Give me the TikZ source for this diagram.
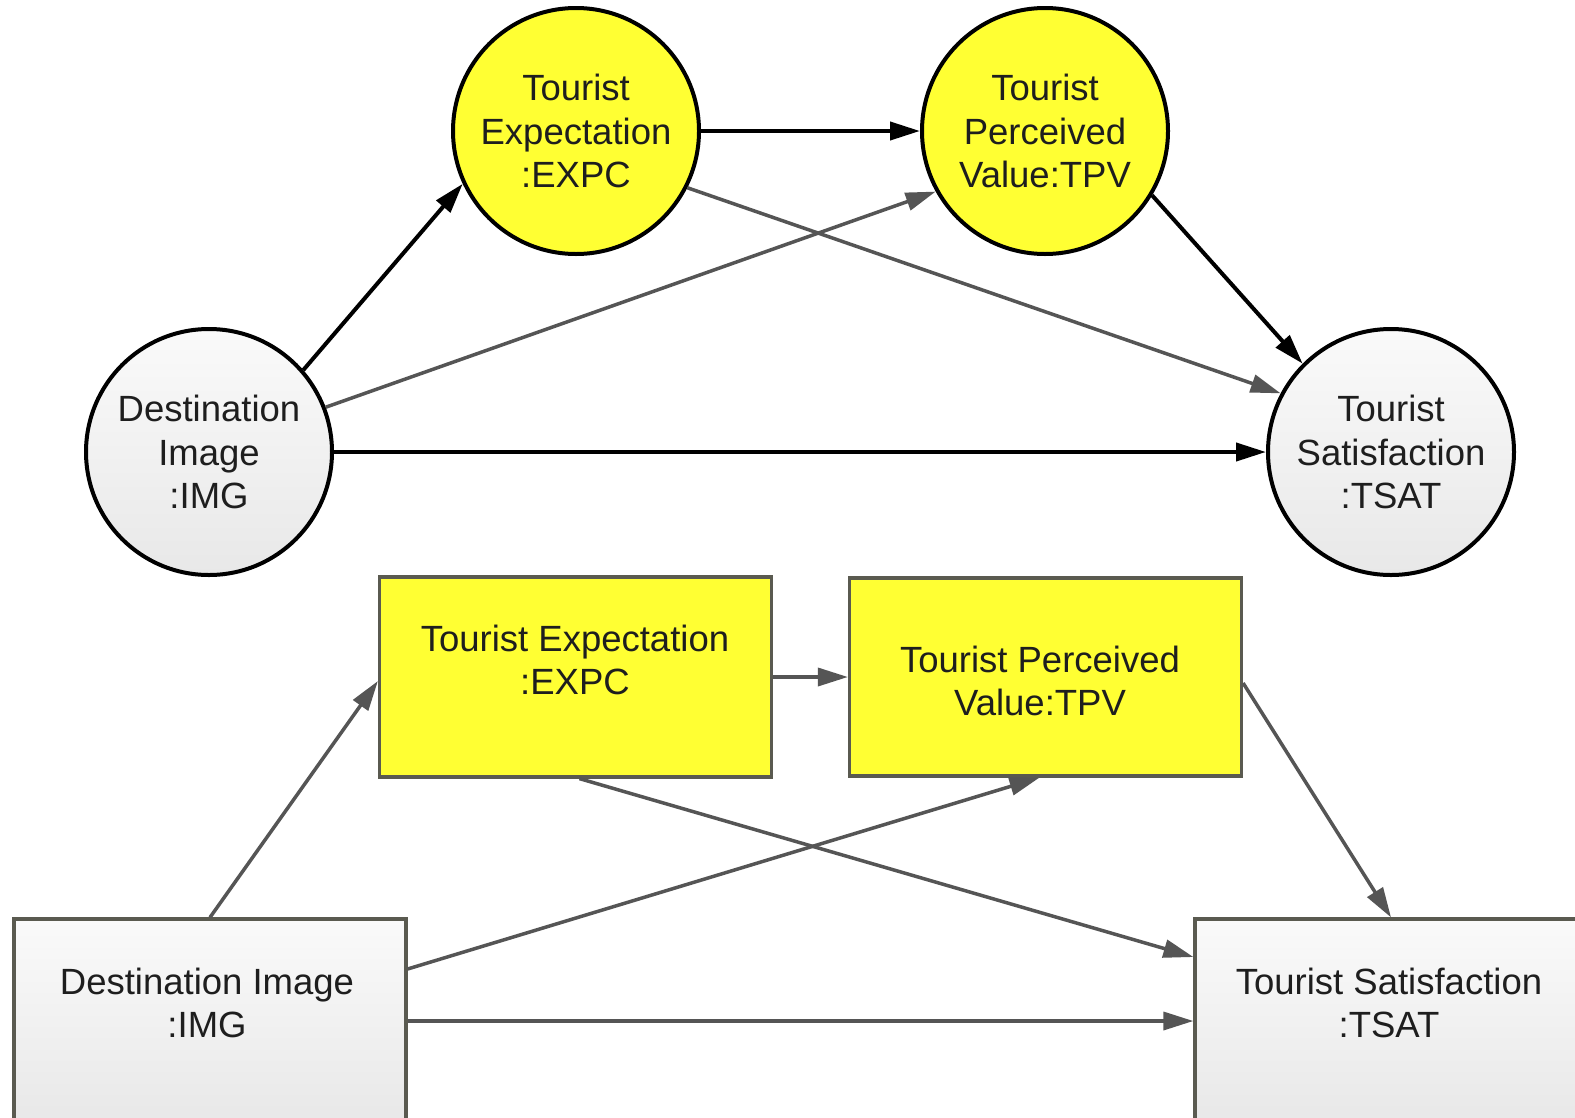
\documentclass[tikz,border=0pt]{standalone}
\usepackage{fontspec}
\setmainfont{Liberation Sans}
\usetikzlibrary{arrows.meta}
\definecolor{cyellow}{RGB}{255,255,51}
\definecolor{edgegray}{RGB}{85,85,85}
\definecolor{boxline}{RGB}{90,90,80}
\definecolor{txt}{RGB}{30,30,30}
\definecolor{lite}{RGB}{250,250,250}
\definecolor{dim}{RGB}{232,232,232}
\tikzset{
  lv/.style={circle, draw=black, line width=4pt, minimum size=246pt, inner sep=0pt,
    align=center, text=txt, font=\fontsize{36.5}{43.5}\selectfont},
  lvyellow/.style={lv, fill=cyellow},
  lvgray/.style={lv, top color=lite, bottom color=dim},
  boxnode/.style={rectangle, draw=boxline, line width=3.2pt, minimum width=392pt, inner sep=0pt},
  boxyellow/.style={boxnode, fill=cyellow},
  boxgray/.style={boxnode, top color=lite, bottom color=dim},
  boxtext/.style={align=center, text=txt, font=\fontsize{36.5}{43.5}\selectfont, inner sep=0pt},
  pathblack/.style={draw=black, line width=4pt, -{Triangle[length=30pt,width=18pt]}},
  pathgray/.style={draw=edgegray, line width=3.5pt, -{Triangle[length=30pt,width=18pt]}},
}
\begin{document}
\begin{tikzpicture}[x=1pt, y=-1pt]
  \fill[white] (0,0) rectangle (1575,1117);
  \useasboundingbox (0,0) rectangle (1575,1117);

  % Structural model drawn with circles
  \node[lvyellow] (expc) at (576,131) {Tourist\\Expectation\\:EXPC};
  \node[lvyellow] (tpv)  at (1045,131) {Tourist\\Perceived\\Value:TPV};
  \node[lvgray]   (img)  at (209,452) {Destination\\Image\\:IMG};
  \node[lvgray]   (tsat) at (1391,452) {Tourist\\Satisfaction\\:TSAT};

  \draw[pathblack] (img.41)  -- (expc.205);
  \draw[pathgray]  (img.21)  -- (tpv.209);
  \draw[pathblack] (img.0)   -- (tsat.180);
  \draw[pathblack] (expc.0)  -- (tpv.180);
  \draw[pathgray]  (expc.-27) -- (tsat.152);
  \draw[pathblack] (tpv.-31) -- (tsat.135);

  % Same model drawn with boxes
  \node[boxyellow, minimum height=200pt] (bexpc) at (575.5,677) {};
  \node[boxyellow, minimum height=198pt] (btpv)  at (1045.5,677) {};
  \node[boxgray,   minimum height=204pt] (bimg)  at (210,1021) {};
  \node[boxgray,   minimum height=204pt] (btsat) at (1391,1021) {};

  \node[boxtext] (bexpc-t) at (575,660)  {Tourist Expectation\\:EXPC};
  \node[boxtext] (btpv-t)  at (1040,681) {Tourist Perceived\\Value:TPV};
  \node[boxtext] (bimg-t)  at (207,1003) {Destination Image\\:IMG};
  \node[boxtext] (btsat-t) at (1389,1003) {Tourist Satisfaction\\:TSAT};

  \draw[pathgray] (bimg.north) -- ([yshift=-4pt]bexpc.west);
  \draw[pathgray] ([yshift=52pt]bimg.east) -- ([xshift=-6pt]btpv.south);
  \draw[pathgray] (bimg.east) -- (btsat.west);
  \draw[pathgray] (bexpc.east) -- (btpv.west);
  \draw[pathgray] ([xshift=4pt]bexpc.south) -- ([yshift=64pt]btsat.west);
  \draw[pathgray] ([yshift=-6pt]btpv.east) -- (btsat.north);
\end{tikzpicture}
\end{document}
